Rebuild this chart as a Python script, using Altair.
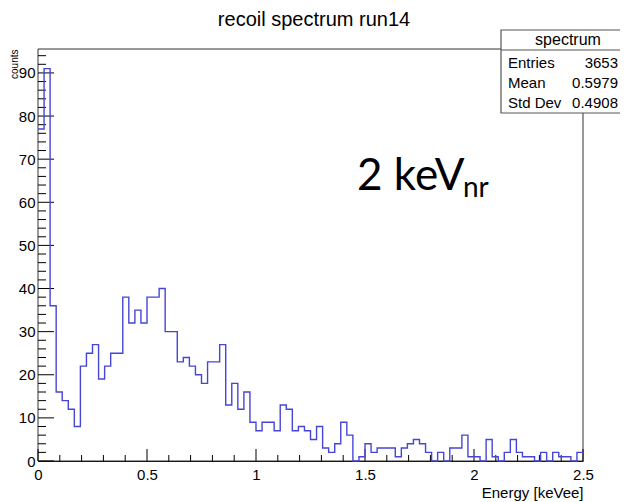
import altair as alt
import pandas as pd

# ---------------- data ----------------
counts = [77, 91, 36, 16, 14, 12, 8, 22, 25, 27,
          19, 22, 25, 25, 38, 32, 35, 32, 38, 38,
          40, 30, 30, 23, 24, 22, 20, 18, 23, 23,
          27, 13, 18, 12, 16, 9, 7, 9, 9, 7,
          13, 12, 7, 8, 7, 5, 8, 3, 2, 4,
          9, 6, 0, 1, 4, 2, 3, 3, 3, 1,
          3, 4, 5, 4, 2, 0, 2, 0, 3, 3,
          6, 1, 1, 0, 5, 1, 0, 2, 5, 2,
          1, 1, 0, 2, 0, 2, 1, 1, 0, 2]
x_min, x_max, n_bins = 0.0, 2.5, 90
y_max = 95.55

x_major = [0, 0.5, 1, 1.5, 2, 2.5]
x_minor = [0.1, 0.2, 0.3, 0.4, 0.6, 0.7, 0.8, 0.9, 1.1, 1.2, 1.3, 1.4,
           1.6, 1.7, 1.8, 1.9, 2.1, 2.2, 2.3, 2.4]
y_major = [0, 10, 20, 30, 40, 50, 60, 70, 80, 90]
y_minor = [v for v in range(2, 95, 2) if v % 10 != 0]

title_text = "recoil spectrum run14"
x_title = "Energy [keVee]"
y_title = "counts"
stats_title = "spectrum"
stat_names = ["Entries", "Mean", "Std Dev"]
stat_values = ["3653", "0.5979", "0.4908"]
note_main = "2 keV"
note_sub = "nr"

# ---------------- layout ----------------
W, H = 545, 412
FONT = "Liberation Sans"
LINE = "#4646d6"

width_bin = (x_max - x_min) / n_bins
edges = [x_min + i * width_bin for i in range(n_bins + 1)]
hist = pd.DataFrame({"energy": edges, "count": counts + [counts[-1]]})

xs = alt.Scale(domain=[x_min, x_max], nice=False, zero=False)
ys = alt.Scale(domain=[0, y_max], nice=False, zero=True)

x_axis = alt.Axis(values=x_major, format="~g", ticks=False, tickSize=0,
                  domainColor="black", domainWidth=1, grid=False,
                  labelFont=FONT, labelFontSize=15, labelColor="black",
                  labelPadding=6, labelFlush=False, labelOverlap=False,
                  title=x_title, titleFont=FONT, titleFontSize=15,
                  titleFontWeight="normal", titleColor="black",
                  titleX=W, titleY=36, titleAlign="right",
                  titleBaseline="alphabetic")
y_axis = alt.Axis(values=y_major, format="d", ticks=False, tickSize=0,
                  domainColor="black", domainWidth=1, grid=False,
                  labelFont=FONT, labelFontSize=15, labelColor="black",
                  labelPadding=3, labelOverlap=False, labelFlush=False,
                  title=y_title, titleFont=FONT, titleFontSize=10,
                  titleFontWeight="normal", titleColor="black",
                  titleAngle=270, titleX=-21, titleY=0,
                  titleAlign="right", titleBaseline="alphabetic")

frame = alt.Chart(pd.DataFrame({"a": [0]})).mark_rect(
    fill="white", stroke="#333333", strokeWidth=1
).encode(x=alt.value(0), x2=alt.value(W), y=alt.value(0), y2=alt.value(H))

line = alt.Chart(hist).mark_line(
    interpolate="step-after", color=LINE, strokeWidth=1.4
).encode(
    x=alt.X("energy:Q", scale=xs, axis=x_axis),
    y=alt.Y("count:Q", scale=ys, axis=y_axis),
)

def yticks(vals, length):
    return alt.Chart(pd.DataFrame({"count": vals})).mark_rule(
        color="black", strokeWidth=1
    ).encode(y=alt.Y("count:Q", scale=ys, axis=y_axis),
             x=alt.value(0), x2=alt.value(length))

def xticks(vals, length):
    return alt.Chart(pd.DataFrame({"energy": vals})).mark_rule(
        color="black", strokeWidth=1
    ).encode(x=alt.X("energy:Q", scale=xs, axis=x_axis),
             y=alt.value(H), y2=alt.value(H - length))

def text(label, x, y, size, align="left", font=FONT, baseline="alphabetic"):
    return alt.Chart(pd.DataFrame({"t": [label]})).mark_text(
        font=font, fontSize=size, align=align, baseline=baseline, color="black"
    ).encode(x=alt.value(x), y=alt.value(y), text="t:N")

# stats box
box = alt.Chart(pd.DataFrame({"a": [0]})).mark_rect(
    fill="white", stroke="#555555", strokeWidth=1.2
).encode(x=alt.value(463), x2=alt.value(640), y=alt.value(-19), y2=alt.value(64))
box_sep = alt.Chart(pd.DataFrame({"a": [0]})).mark_rule(
    color="#555555", strokeWidth=1.2
).encode(x=alt.value(463), x2=alt.value(640), y=alt.value(1))

layers = [frame, yticks(y_minor, 8), yticks(y_major, 16),
          xticks(x_minor, 6), xticks(x_major, 12), line, box, box_sep,
          text(stats_title, 530, -4, 16, align="center")]
for i, (n, v) in enumerate(zip(stat_names, stat_values)):
    layers.append(text(n, 470, 19 + 20 * i, 15))
    layers.append(text(v, 580, 19 + 20 * i, 15, align="right"))

layers += [
    text(title_text, 276, -23, 20, align="center"),
    text(note_main, 319, 141, 44, font="Lato"),
    text(note_sub, 425, 148, 28, font="Lato"),
]

chart = alt.layer(*layers).properties(
    width=W, height=H,
    autosize=alt.AutoSizeParams(type="none"),
    padding={"left": 30, "top": 41, "right": 37, "bottom": 41},
    background="white",
).configure_view(stroke=None)

chart.save("out.html", embed_options={"renderer": "svg", "actions": False})
